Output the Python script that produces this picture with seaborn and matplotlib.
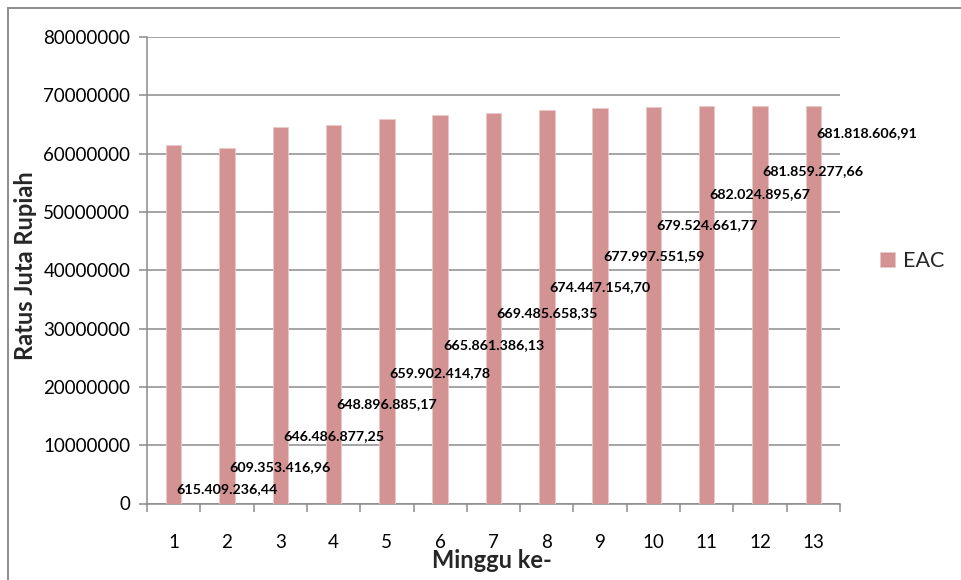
import matplotlib
matplotlib.use("Agg")
import matplotlib.pyplot as plt
from matplotlib.patches import Rectangle
import numpy as np
import pandas as pd
import seaborn as sns

# Estimate At Completion per week (Rupiah)
weeks = ["1", "2", "3", "4", "5", "6", "7", "8", "9", "10", "11", "12", "13"]
eac = [615409236.44, 609353416.96, 646486877.25, 648896885.17, 659902414.78,
       665861386.13, 669485658.35, 674447154.70, 677997551.59, 679524661.77,
       682024895.67, 681859277.66, 681818606.91]
# axis unit: the plotted height is the EAC divided by ten
scale = 10.0

# heights at which each value label sits (axis units)
label_y = [2.44e6, 6.31e6, 11.58e6, 17.07e6, 22.44e6, 27.19e6, 32.62e6,
           37.08e6, 42.45e6, 47.72e6, 53.04e6, 57.08e6, 63.5e6]

sns.set_theme(style="white")
plt.rcParams["font.family"] = ["Lato", "DejaVu Sans"]

bar_color = "#d39392"
grid_color = "#8c8c8c"

df = pd.DataFrame({"Minggu": weeks, "EAC": np.array(eac) / scale})

W, H = 962, 580
fig = plt.figure(figsize=(W / 100, H / 100), dpi=100)
ax = fig.add_axes([147 / W, 1 - 503.5 / H, (840 - 147) / W, (503.5 - 37) / H])

sns.barplot(data=df, x="Minggu", y="EAC", color=bar_color, width=0.29,
            saturation=1, edgecolor="#ecc9c9", linewidth=0.6, ax=ax,
            label="EAC", zorder=3)

ax.set_xlim(-0.5, len(weeks) - 0.5)
ax.set_ylim(0, 80000000)
ax.set_yticks(np.arange(0, 80000001, 10000000))
ax.set_yticklabels([f"{int(v)}" for v in np.arange(0, 80000001, 10000000)])
ax.yaxis.grid(True, color=grid_color, linewidth=1.1, zorder=0)
ax.set_axisbelow(True)

for side in ["top", "right"]:
    ax.spines[side].set_visible(False)
for side in ["left", "bottom"]:
    ax.spines[side].set_color(grid_color)
    ax.spines[side].set_linewidth(1.1)

ax.tick_params(axis="y", which="major", length=6, width=1.1, color=grid_color,
               direction="out", left=True, labelsize=13.5, pad=6, labelcolor="black")
ax.set_xticks(np.arange(len(weeks)))
ax.set_xticklabels(weeks)
ax.set_xticks(np.arange(len(weeks) + 1) - 0.5, minor=True)
ax.tick_params(axis="x", which="major", length=0, labelsize=13.5, pad=22,
               labelcolor="black")
ax.tick_params(axis="x", which="minor", length=6, width=1.1, color=grid_color,
               direction="out", bottom=True)
ax.set_xlabel("")
ax.set_ylabel("")

fig.text(492 / W, 1 - 561 / H, "Minggu ke-", fontsize=17, fontweight="bold",
         ha="center", va="center")
fig.text(26 / W, 1 - 266 / H, "Ratus Juta Rupiah", fontsize=17, fontweight="bold",
         rotation=90, ha="center", va="center")


def rupiah(v):
    s = f"{v:,.2f}"
    return s.replace(",", "_").replace(".", ",").replace("_", ".")


for i, (v, ly) in enumerate(zip(eac, label_y)):
    ax.annotate(rupiah(v), xy=(i, ly), xytext=(2, 0), textcoords="offset points",
                ha="left", va="center", fontsize=10.3, fontweight="bold",
                color="black", zorder=5)

leg = ax.legend(loc="center left", bbox_to_anchor=(1.03, 0.52), frameon=False,
                fontsize=15.5, handlelength=0.7, handleheight=0.7, handletextpad=0.35)

# chart frame
fig.add_artist(Rectangle((8 / W, -0.2), 1.2, 1.2 - 8 / H, transform=fig.transFigure,
                         fill=False, edgecolor="#8c8c8c", linewidth=1.4))

fig.savefig("out.png", dpi=100, facecolor="white")
